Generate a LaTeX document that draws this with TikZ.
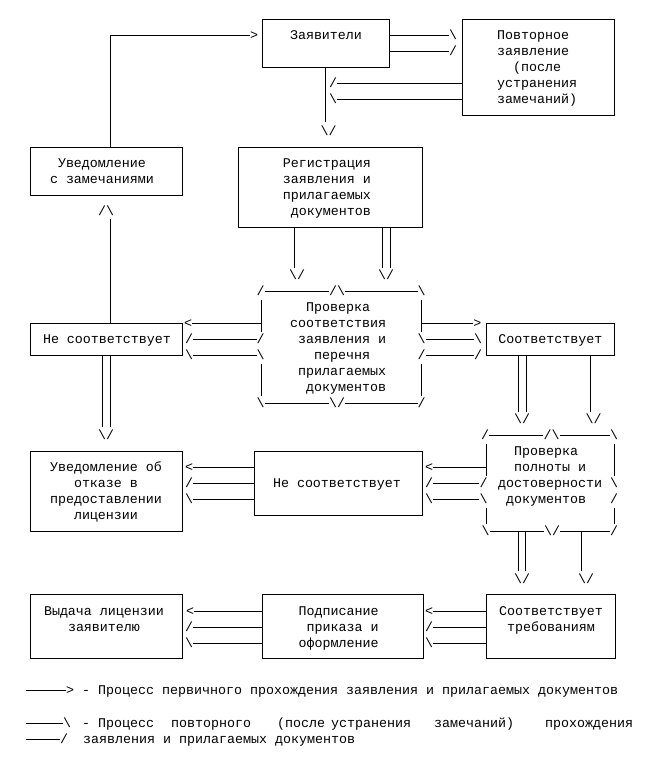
\documentclass[tikz,border=0pt]{standalone}
\usepackage{fontspec}
\newfontfamily\cour{Liberation Mono}
\newcommand\mystrut{\rule[-4pt]{0pt}{16pt}}
\newcommand\mybs{\textbackslash}
\tikzset{
  box/.style={draw=black, line width=0.8pt, inner sep=0pt},
  txt/.style={font=\fontsize{13.33}{16}\selectfont\cour, inner sep=0pt, align=center},
  ch/.style={txt, execute at begin node=\mystrut},
  ln/.style={draw=black, line width=0.8pt},
}
\begin{document}
\begin{tikzpicture}[x=1pt,y=-1pt]
\useasboundingbox (0,0) rectangle (649,757);
\fill[white] (0,0) rectangle (649,757);

% ---------- boxes ----------
\node[box,minimum width=127pt,minimum height=48pt] (z)  at (325.5,43.3) {};
\node[box,minimum width=152pt,minimum height=96pt] (p)  at (538,67.3) {};
\node[box,minimum width=152pt,minimum height=48pt] (u)  at (106,171.3) {};
\node[box,minimum width=184pt,minimum height=80pt] (r)  at (330,187.3) {};
\node[box,minimum width=152pt,minimum height=32pt] (n1) at (106,339.5) {};
\node[box,minimum width=128pt,minimum height=32pt] (s1) at (550,339.5) {};
\node[box,minimum width=152pt,minimum height=80pt] (o)  at (106,491.5) {};
\node[box,minimum width=168pt,minimum height=64pt] (n2) at (338,483.5) {};
\node[box,minimum width=152pt,minimum height=64pt] (v)  at (106,626.3) {};
\node[box,minimum width=161pt,minimum height=64pt] (pd) at (342.5,626.3) {};
\node[box,minimum width=129pt,minimum height=64pt] (s2) at (550.5,626.3) {};

% ---------- texts ----------
\node[ch] (zt) at (326,35.5) {Заявители};
\node[txt,align=left,anchor=west] (pt) at (497,67.5)
  {\mystrut Повторное\\\mystrut заявление\\\mystrut\hspace*{16pt}(после\\\mystrut устранения\\\mystrut замечаний)};
\node[txt] (ut) at (102,171.5) {\mystrut Уведомление\\\mystrut с замечаниями};
\node[txt,align=right,anchor=east] (rt) at (371,187.5)
  {\mystrut Регистрация\\\mystrut заявления и\\\mystrut прилагаемых\\\mystrut документов};
\node[ch] (n1t) at (107,339.5) {Не соответствует};
\node[txt,align=left,anchor=west] (c1t) at (290,347.5)
  {\mystrut\hspace*{16pt}Проверка\\\mystrut соответствия\\\mystrut\hspace*{8pt}заявления и\\\mystrut\hspace*{24pt}перечня\\\mystrut\hspace*{8pt}прилагаемых\\\mystrut\hspace*{16pt}документов};
\node[ch] (s1t) at (550.4,339.5) {Соответствует};
\node[txt] (ot) at (106,491.5)
  {\mystrut Уведомление об\\\mystrut отказе в\\\mystrut предоставлении\\\mystrut лицензии};
\node[ch] (n2t) at (337,483.5) {Не соответствует};
\node[txt,align=left,anchor=west] (c2t) at (498,475.5)
  {\mystrut\hspace*{16pt}Проверка\\\mystrut\hspace*{16pt}полноты и\\\mystrut достоверности\\\mystrut\hspace*{8pt}документов};
\node[txt] (vt) at (104,619.5) {\mystrut Выдача лицензии\\\mystrut заявителю};
\node[txt,align=left,anchor=west] (pdt) at (298.5,627.5)
  {\mystrut Подписание\\\mystrut\hspace*{8pt}приказа и\\\mystrut оформление};
\node[txt] (s2t) at (551,619.5) {\mystrut Соответствует\\\mystrut требованиям};

% ---------- top ----------
\node[ch] (a1) at (254,35.5) {>};
\draw[ln] ([xshift=4pt]u.north) |- (a1.west);
\node[ch] (a2) at (453,35.5) {\mybs};
\node[ch] (a3) at (453,51.5) {/};
\draw[ln] (z.east |- a2) -- (a2.west);
\draw[ln] (z.east |- a3) -- (a3.west);
\node[ch] (a4) at (333,83.5) {/};
\node[ch] (a5) at (333,99.5) {\mybs};
\draw[ln] (p.west |- a4) -- (a4.east);
\draw[ln] (p.west |- a5) -- (a5.east);
\node[ch] (a6) at (328.5,131.5) {\mybs/};
\draw[ln] (z.south) -- ++(0,54.5);

\node[ch] (a7) at (106,211.5) {/\mybs};
\draw[ln] ([xshift=4pt]n1.north) -- ++(0,-104);
\node[ch] (a8) at (106,435.5) {\mybs/};
\draw[ln] ([xshift=-4pt]n1.south) -- ++(0,71);
\draw[ln] ([xshift=4pt]n1.south) -- ++(0,71);

\node[ch] (a9) at (297,275.5) {\mybs/};
\node[ch] (a10) at (386,275.5) {\mybs/};
\draw[ln] ([xshift=-36pt]r.south) -- ++(0,40);
\draw[ln] ([xshift=52pt]r.south) -- ++(0,40);
\draw[ln] ([xshift=60pt]r.south) -- ++(0,40);

% ---------- check 1 ----------
\node[ch] (c1tl) at (260.7,291.5) {/};
\node[ch] (c1tm) at (337,291.5) {/\mybs};
\node[ch] (c1tr) at (421.7,291.5) {\mybs};
\node[ch] (c1bl) at (260.7,403.5) {\mybs};
\node[ch] (c1bm) at (337,403.5) {\mybs/};
\node[ch] (c1br) at (421.7,403.5) {/};
\node[ch] (c1l1) at (260.7,339.5) {/};
\node[ch] (c1l2) at (260.7,355.5) {\mybs};
\node[ch] (c1r1) at (421.7,339.5) {\mybs};
\node[ch] (c1r2) at (421.7,355.5) {/};
\draw[ln] (c1tl.east) -- (c1tm.west);
\draw[ln] (c1tm.east) -- (c1tr.west);
\draw[ln] (c1bl.east) -- (c1bm.west);
\draw[ln] (c1bm.east) -- (c1br.west);
\coordinate (c1a) at (261.7,299.5);
\coordinate (c1b) at (261.7,331.5);
\coordinate (c1c) at (261.7,363.5);
\coordinate (c1d) at (261.7,395.5);
\coordinate (c1e) at (421.7,299.5);
\coordinate (c1f) at (421.7,331.5);
\coordinate (c1g) at (421.7,363.5);
\coordinate (c1h) at (421.7,395.5);
\draw[ln] (c1a) -- (c1b);
\draw[ln] (c1c) -- (c1d);
\draw[ln] (c1e) -- (c1f);
\draw[ln] (c1g) -- (c1h);

\node[ch] (b1) at (188,323.5) {<};
\draw[ln] (b1.east) -- (c1a |- b1);
\node[ch] (b2) at (189,339.5) {/};
\draw[ln] (b2.east) -- (c1l1.west);
\node[ch] (b3) at (189,355.5) {\mybs};
\draw[ln] (b3.east) -- (c1l2.west);
\node[ch] (b4) at (477.3,323.5) {>};
\draw[ln] (c1e |- b4) -- (b4.west);
\node[ch] (b5) at (478,339.5) {\mybs};
\draw[ln] (c1r1.east) -- (b5.west);
\node[ch] (b6) at (478,355.5) {/};
\draw[ln] (c1r2.east) -- (b6.west);

\node[ch] (a11) at (522,419.5) {\mybs/};
\node[ch] (a12) at (593.5,419.5) {\mybs/};
\draw[ln] ([xshift=-32pt]s1.south) -- ++(0,56);
\draw[ln] ([xshift=-24pt]s1.south) -- ++(0,56);
\draw[ln] ([xshift=40pt]s1.south) -- ++(0,56);

% ---------- check 2 ----------
\node[ch] (c2tl) at (485,435.5) {/};
\node[ch] (c2tm) at (551.5,435.5) {/\mybs};
\node[ch] (c2tr) at (614,435.5) {\mybs};
\node[ch] (c2bl) at (485.5,531.5) {\mybs};
\node[ch] (c2bm) at (552,531.5) {\mybs/};
\node[ch] (c2br) at (614,531.5) {/};
\node[ch] (c2l1) at (483.5,483.5) {/};
\node[ch] (c2l2) at (483.5,499.5) {\mybs};
\node[ch] (c2r1) at (614,483.5) {\mybs};
\node[ch] (c2r2) at (614,499.5) {/};
\draw[ln] (c2tl.east) -- (c2tm.west);
\draw[ln] (c2tm.east) -- (c2tr.west);
\draw[ln] (c2bl.east) -- (c2bm.west);
\draw[ln] (c2bm.east) -- (c2br.west);
\coordinate (c2a) at (486.6,443.5);
\coordinate (c2b) at (486.6,475.5);
\coordinate (c2c) at (486.6,507.5);
\coordinate (c2d) at (486.6,523.5);
\coordinate (c2e) at (614.3,443.5);
\coordinate (c2f) at (614.3,475.5);
\coordinate (c2g) at (614.3,507.5);
\coordinate (c2h) at (614.3,523.5);
\draw[ln] (c2a) -- (c2b);
\draw[ln] (c2c) -- (c2d);
\draw[ln] (c2e) -- (c2f);
\draw[ln] (c2g) -- (c2h);

\node[ch] (d1) at (429,467.5) {<};
\draw[ln] (d1.east) -- (c2a |- d1);
\node[ch] (d2) at (429,483.5) {/};
\draw[ln] (d2.east) -- (c2l1.west);
\node[ch] (d3) at (429,499.5) {\mybs};
\draw[ln] (d3.east) -- (c2l2.west);

\node[ch] (e1) at (189,467.5) {<};
\node[ch] (e2) at (189,483.5) {/};
\node[ch] (e3) at (189,499.5) {\mybs};
\draw[ln] (e1.east) -- (n2.west |- e1);
\draw[ln] (e2.east) -- (n2.west |- e2);
\draw[ln] (e3.east) -- (n2.west |- e3);

\coordinate (c2d1) at (518.3,531.5);
\coordinate (c2d2) at (525.7,531.5);
\coordinate (c2d3) at (581.7,531.5);
\draw[ln] (c2d1) -- ++(0,39.5);
\draw[ln] (c2d2) -- ++(0,39.5);
\draw[ln] (c2d3) -- ++(0,39.5);
\node[ch] (a13) at (522,579.5) {\mybs/};
\node[ch] (a14) at (586,579.5) {\mybs/};

% ---------- bottom ----------
\node[ch] (f1) at (190,611.5) {<};
\node[ch] (f2) at (189,627.5) {/};
\node[ch] (f3) at (189,643.5) {\mybs};
\draw[ln] (f1.east) -- (pd.west |- f1);
\draw[ln] (f2.east) -- (pd.west |- f2);
\draw[ln] (f3.east) -- (pd.west |- f3);
\node[ch] (g1) at (429,611.5) {<};
\node[ch] (g2) at (429,627.5) {/};
\node[ch] (g3) at (429,643.5) {\mybs};
\draw[ln] (g1.east) -- (s2.west |- g1);
\draw[ln] (g2.east) -- (s2.west |- g2);
\draw[ln] (g3.east) -- (s2.west |- g3);

% ---------- legend ----------
\coordinate (l1s) at (26,690);
\node[ch] (l1) at (70,690) {>};
\draw[ln] (l1s) -- (l1.west);
\node[ch,anchor=west] (l1t) at (82,690) {- Процесс первичного прохождения заявления и прилагаемых документов};

\coordinate (l2s) at (26,723.5);
\node[ch] (l2) at (67,723.5) {\mybs};
\draw[ln] (l2s) -- (l2.west);
\node[ch,anchor=west] (w1) at (82,723.5) {- Процесс};
\node[ch,anchor=west] (w2) at (171,723.5) {повторного};
\node[ch,anchor=west] (w3) at (277,723.5) {(после};
\node[ch,anchor=west] (w4) at (331,723.5) {устранения};
\node[ch,anchor=west] (w5) at (434,723.5) {замечаний)};
\node[ch,anchor=west] (w6) at (545,723.5) {прохождения};

\coordinate (l3s) at (26,739.5);
\node[ch] (l3) at (64,739.5) {/};
\draw[ln] (l3s) -- (l3.west);
\node[ch,anchor=west] (l3t) at (83,739.5) {заявления и прилагаемых документов};
\end{tikzpicture}
\end{document}
